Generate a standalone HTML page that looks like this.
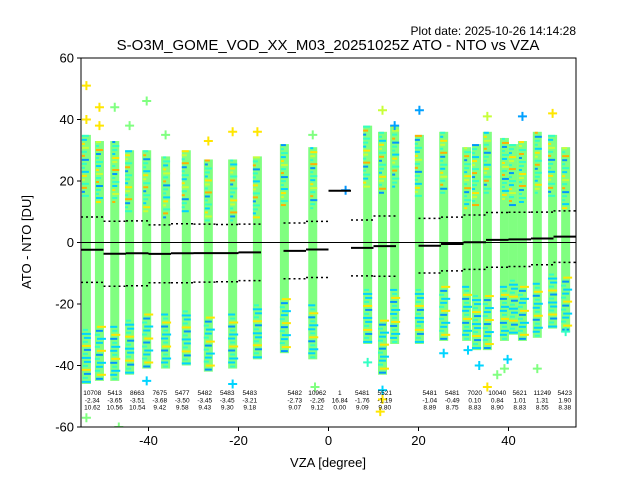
<!DOCTYPE html>
<html><head><meta charset="utf-8"><style>
body{margin:0;background:#fff}
svg{font-family:"Liberation Sans","DejaVu Sans",sans-serif}
</style></head><body>
<svg id="chart" width="640" height="480" viewBox="0 0 640 480" xmlns="http://www.w3.org/2000/svg">
<rect width="640" height="480" fill="#fff"/>
<text x="576" y="35" font-size="12" text-anchor="end">Plot date: 2025-10-26 14:14:28</text>
<text x="328" y="50" font-size="15" text-anchor="middle">S-O3M_GOME_VOD_XX_M03_20251025Z ATO - NTO vs VZA</text>
<g id="marks"></g>
<g id="axes"></g>
<text x="328" y="467" font-size="13" text-anchor="middle">VZA [degree]</text>
<text transform="translate(31,242) rotate(-90)" font-size="13" text-anchor="middle">ATO - NTO [DU]</text>
</svg>
<script>
const binCenters=[-52.5,-47.5,-42.5,-37.5,-32.5,-27.5,-22.5,-17.5,-7.5,-2.5,2.5,7.5,12.5,22.5,27.5,32.5,37.5,42.5,47.5,52.5];
const binCounts=[10708,5413,8663,7675,5477,5482,5483,5483,5482,10962,1,5481,5521,5481,5481,7020,10040,5621,11249,5423];
const binMeans=[-2.34,-3.65,-3.51,-3.68,-3.50,-3.45,-3.45,-3.21,-2.73,-2.26,16.84,-1.76,-1.19,-1.04,-0.49,0.10,0.84,1.01,1.31,1.90];
const binStds=[10.62,10.56,10.54,9.42,9.58,9.43,9.30,9.18,9.07,9.12,0.00,9.09,9.80,8.89,8.75,8.83,8.90,8.83,8.55,8.38];
const stripeVza=[-53.8,-50.9,-47.5,-44.2,-40.4,-36.2,-31.6,-26.7,-21.3,-15.8,-9.8,-3.5,8.7,12.0,14.7,20.2,25.6,30.7,32.9,35.3,39.1,41.1,43.1,46.4,49.8,52.7];
const stripeTop=[35,33,33,30,30,28,30,27,27,28,32,31,38,36,38,35,36,31,32,36,34,32,33,36,35,31];
const stripeBot=[-46,-45,-45,-43,-41,-41,-40,-42,-41,-38,-36,-38,-33,-43,-33,-33,-32,-32,-35,-35,-32,-30,-32,-31,-28,-29];
const outX=[-53.8,-50.9,-47.5,-40.4,-53.8,12.0,11.5,12.0,14.7,20.2,35.3,35.3,43.1,49.8,-46.6,37.5,31.0,39.1,3.8,-53.8,-50.9,-44.2,-36.2,-26.7,-21.3,-15.8,-3.5,8.7,12.0,25.6,33.5,39.8,46.4,52.7,-40.4,-3.0,-21.3];
const outY=[51,44,44,46,-57,43,-55,-51,38,43,-47,41,41,42,-60,-43,-35,-41,17,40,38,38,35,33,36,36,35,-39,-48,-36,-40,-38,-41,-29,-45,-47,-46];
const outC=['#ffe600','#ffe600','#80ff80','#80ff80','#80ff80','#c8ff38','#ffe600','#ffe600','#00a0ff','#00a0ff','#ffe600','#c8ff38','#00a0ff','#ffe600','#80ff80','#80ff80','#00d4ff','#80ff80','#0096ff','#ffe600','#ffe600','#80ff80','#80ff80','#ffe600','#ffe600','#ffe600','#80ff80','#33ffc4','#00d4ff','#00d4ff','#00d4ff','#00d4ff','#80ff80','#33ffc4','#00d4ff','#80ff80','#00d4ff'];
const yTicks=[-60,-40,-20,0,20,40,60];
const xTicks=[-40,-20,0,20,40];

const X0=81,X1=576,Y0=58,Y1=427;
const sx=v=>X0+(v+55)/110*(X1-X0);
const sy=v=>Y1-(v+60)/120*(Y1-Y0);
const NS='http://www.w3.org/2000/svg';
const marks=document.getElementById('marks');
const axes=document.getElementById('axes');
function mk(tag,attrs,parent){const e=document.createElementNS(NS,tag);for(const k in attrs)e.setAttribute(k,attrs[k]);parent.appendChild(e);return e;}
const defs=mk('defs',{},marks);
const cp=mk('clipPath',{id:'pc'},defs);
mk('rect',{x:X0,y:Y0,width:X1-X0,height:Y1-Y0},cp);
const g=mk('g',{'clip-path':'url(#pc)'},marks);
const tipCols=['#33ffc4','#00d4ff','#ffe600','#c8ff38','#33ffc4','#ffb000','#0096ff','#33ffc4'];
const botCols=['#00d4ff','#33ffc4','#0096ff','#ffe600','#33ffc4','#00d4ff'];
stripeVza.forEach((v,i)=>{
  const cx=sx(v),w=9;
  const s=mk('rect',{x:cx-w/2,y:sy(stripeTop[i]),width:w,height:sy(stripeBot[i])-sy(stripeTop[i]),fill:'#80ff80'},g);
  
  
  for(let k=0;k<16;k++){
    const yv=stripeTop[i]-k*1.3;
    const r=mk('rect',{x:cx-w/2+((k*3+i)%3),y:sy(yv),width:w-2-((k+i)%3)*2,height:2,fill:tipCols[(i*3+k)%tipCols.length]},g);
    
    
  }
  for(let k=0;k<14;k++){
    const yb=stripeBot[i]+k*1.3+1;
    const r2=mk('rect',{x:cx-w/2+((k+i)%3),y:sy(yb),width:w-((k*2+i)%3)*2,height:2,fill:botCols[(i*2+k)%botCols.length]},g);
    
    
  }
});
outX.forEach((v,i)=>{
  const cx=sx(v),cy=sy(outY[i]);
  const p=mk('path',{d:`M${cx-4.5},${cy}H${cx+4.5}M${cx},${cy-4.5}V${cy+4.5}`,stroke:outC[i],'stroke-width':2},g);
  
  
});
const zl=mk('line',{x1:X0,x2:X1,y1:sy(0),y2:sy(0),stroke:'#000','stroke-width':1},g);


binCenters.forEach((c,i)=>{
  const a=sx(c-2.5),b=sx(c+2.5);
  const m=mk('line',{x1:a,x2:b,y1:sy(binMeans[i]),y2:sy(binMeans[i]),stroke:'#000','stroke-width':2},g);
  
  
  [1,-1].forEach(sg=>{
    const yv=binMeans[i]+sg*binStds[i];
    const d=mk('line',{x1:a,x2:b,y1:sy(yv),y2:sy(yv),stroke:'#000','stroke-width':1.5,'stroke-dasharray':'2,3'},g);
    
    
  });
  const t=mk('text',{x:sx(c),y:395,'font-size':6.5,'text-anchor':'middle'},g);
  
  
  [String(binCounts[i]),binMeans[i].toFixed(2),binStds[i].toFixed(2)].forEach((s,k)=>{
    const ts=mk('tspan',{x:sx(c),dy:k?7.3:0},t);ts.textContent=s;
  });
});
const fr=mk('rect',{x:X0,y:Y0,width:X1-X0,height:Y1-Y0,fill:'none',stroke:'#000','stroke-width':1},axes);


yTicks.forEach(v=>{
  const y=sy(v);
  mk('line',{x1:X0-4,x2:X0,y1:y,y2:y,stroke:'#000'},axes);
  const t=mk('text',{x:X0-7,y:y+4.5,'font-size':13,'text-anchor':'end'},axes);
  t.textContent=v;
  
  
});
xTicks.forEach(v=>{
  const x=sx(v);
  mk('line',{x1:x,x2:x,y1:Y1,y2:Y1+4,stroke:'#000'},axes);
  const t=mk('text',{x:x,y:Y1+18,'font-size':13,'text-anchor':'middle'},axes);
  t.textContent=v;
  
  
});
</script>
</body></html>
